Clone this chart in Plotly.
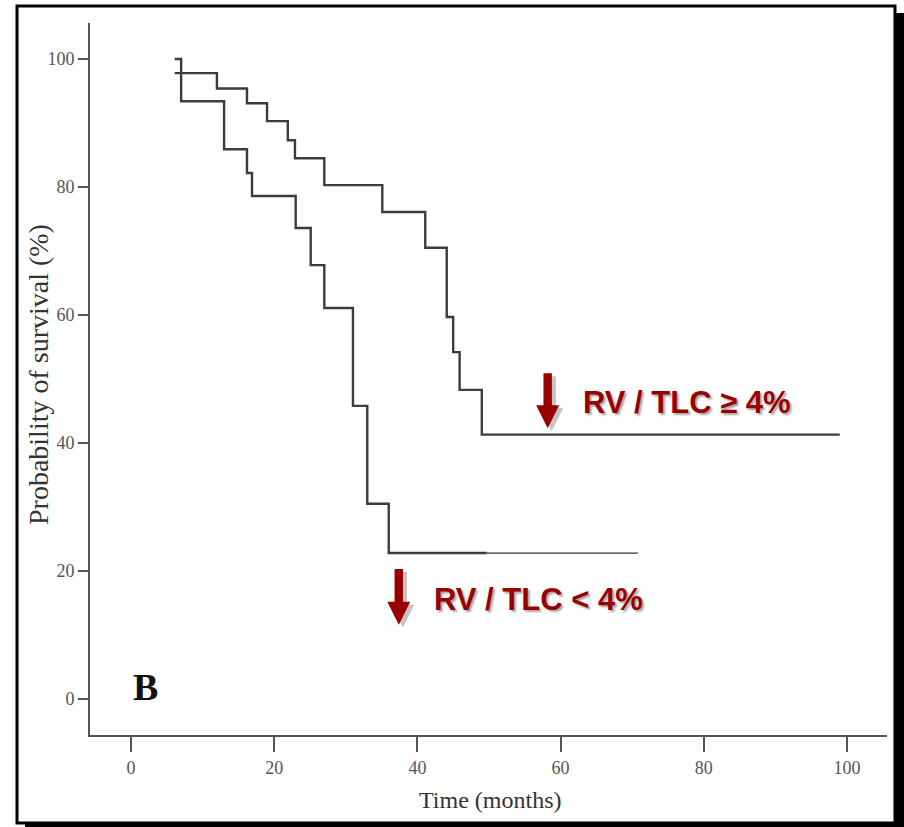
import plotly.graph_objects as go

# Kaplan-Meier survival estimates (months, % surviving)
high_t = [6.1, 12.0, 16.2, 19.0, 21.9, 22.9, 27.0, 35.1, 41.1, 44.1, 45.0, 45.9, 49.0, 99.0]
high_s = [97.8, 95.4, 93.1, 90.3, 87.3, 84.5, 80.3, 76.1, 70.5, 59.7, 54.2, 48.3, 41.3, 41.3]

low_t = [6.1, 7.0, 13.0, 16.2, 16.9, 23.0, 25.1, 27.0, 31.0, 33.0, 36.0, 49.7]
low_s = [100.0, 93.4, 85.9, 82.2, 78.6, 73.6, 67.8, 61.1, 45.8, 30.5, 22.8, 22.8]
low_tail_t = [49.7, 70.8]
low_tail_s = [22.8, 22.8]

tick_vals = [0, 20, 40, 60, 80, 100]
tick_text = ["0", "20", "40", "60", "80", "100"]

group_labels = ["RV / TLC \u2265 4%", "RV / TLC < 4%"]
# label anchor (time, %) and arrow (time, top, head start, tip)
label_pos = [(62.8, 46.3), (42.0, 15.5)]
arrow_pos = [(58.2, 50.9, 45.9, 42.3), (37.4, 20.3, 15.2, 11.6)]

X_RANGE = [-5.73, 105.6]
Y_RANGE = [-5.63, 105.63]
PLOT_L, PLOT_R, PLOT_T, PLOT_B = 90, 887, 23, 735
W, H = 904, 827
PX_X = (PLOT_R - PLOT_L) / (X_RANGE[1] - X_RANGE[0])
PX_Y = (PLOT_B - PLOT_T) / (Y_RANGE[1] - Y_RANGE[0])


def px_to_paper(px, py):
    return (px - PLOT_L) / (PLOT_R - PLOT_L), (PLOT_B - py) / (PLOT_B - PLOT_T)


line_col = "#3c3c3c"
fig = go.Figure()
fig.add_trace(go.Scatter(x=high_t, y=high_s, mode="lines", line=dict(color=line_col, width=2.4, shape="hv"),
                         showlegend=False, hoverinfo="skip"))
fig.add_trace(go.Scatter(x=low_t, y=low_s, mode="lines", line=dict(color=line_col, width=2.4, shape="hv"),
                         showlegend=False, hoverinfo="skip"))
fig.add_trace(go.Scatter(x=low_tail_t, y=low_tail_s, mode="lines", line=dict(color="#6e6e6e", width=1.8, shape="hv"),
                         showlegend=False, hoverinfo="skip"))

shapes = []
# framed panel with drop shadow
x0, y0 = px_to_paper(25, 13)
x1, y1 = px_to_paper(W, H)
shapes.append(dict(type="rect", xref="paper", yref="paper", x0=x0, y0=y0, x1=x1, y1=y1,
                   fillcolor="black", line=dict(width=0), layer="below"))
x0, y0 = px_to_paper(17, 6)
x1, y1 = px_to_paper(895, 823)
shapes.append(dict(type="rect", xref="paper", yref="paper", x0=x0, y0=y0, x1=x1, y1=y1,
                   fillcolor="white", line=dict(color="black", width=3), layer="below"))


def arrow_path(xc, top, head, tip, dx=0.0, dy=0.0):
    hw = 4.2 / PX_X
    HW = 11.5 / PX_X
    pts = [(xc - hw, top), (xc + hw, top), (xc + hw, head), (xc + HW, head),
           (xc, tip), (xc - HW, head), (xc - hw, head)]
    pts = [(x + dx, y + dy) for x, y in pts]
    return "M " + " L ".join(f"{x:.3f},{y:.3f}" for x, y in pts) + " Z"


for xc, top, head, tip in arrow_pos:
    shapes.append(dict(type="path", xref="x", yref="y",
                       path=arrow_path(xc, top, head, tip, 4 / PX_X, -3 / PX_Y),
                       fillcolor="#c4c4c4", line=dict(width=0)))
    shapes.append(dict(type="path", xref="x", yref="y",
                       path=arrow_path(xc, top, head, tip),
                       fillcolor="#990000", line=dict(width=0)))

annotations = []
for text, (lx, ly) in zip(group_labels, label_pos):
    annotations.append(dict(x=lx, y=ly, xref="x", yref="y", text=text, showarrow=False,
                            xanchor="left", yanchor="middle",
                            font=dict(family="Liberation Sans", size=31, color="#990000",
                                      weight="bold", shadow="2px 2px 2px #a8a8a8")))

annotations.append(dict(x=2.0, y=1.9, xref="x", yref="y", text="<b>B</b>", showarrow=False,
                        xanchor="center", yanchor="middle",
                        font=dict(family="Liberation Serif", size=38, color="#111111")))

tx, ty = px_to_paper(490, 800)
annotations.append(dict(x=tx, y=ty, xref="paper", yref="paper", text="Time (months)", showarrow=False,
                        xanchor="center", yanchor="middle",
                        font=dict(family="Liberation Serif", size=24, color="#333333")))
tx, ty = px_to_paper(38, 375)
annotations.append(dict(x=tx, y=ty, xref="paper", yref="paper", text="Probability of survival (%)",
                        showarrow=False, textangle=-90, xanchor="center", yanchor="middle",
                        font=dict(family="Liberation Serif", size=28, color="#333333")))

axis_common = dict(showline=True, linecolor="#555555", linewidth=2, showgrid=False, zeroline=False,
                   ticks="outside", tickcolor="#555555", tickwidth=2,
                   tickvals=tick_vals, ticktext=tick_text,
                   tickfont=dict(family="Liberation Serif", size=18, color="#555555"))

fig.update_layout(
    width=W, height=H,
    margin=dict(l=PLOT_L, r=W - PLOT_R, t=PLOT_T, b=H - PLOT_B),
    paper_bgcolor="white", plot_bgcolor="white",
    xaxis=dict(range=X_RANGE, ticklen=15, **axis_common),
    yaxis=dict(range=Y_RANGE, ticklen=10, **axis_common),
    shapes=shapes, annotations=annotations,
)

fig.write_html("out.html")
